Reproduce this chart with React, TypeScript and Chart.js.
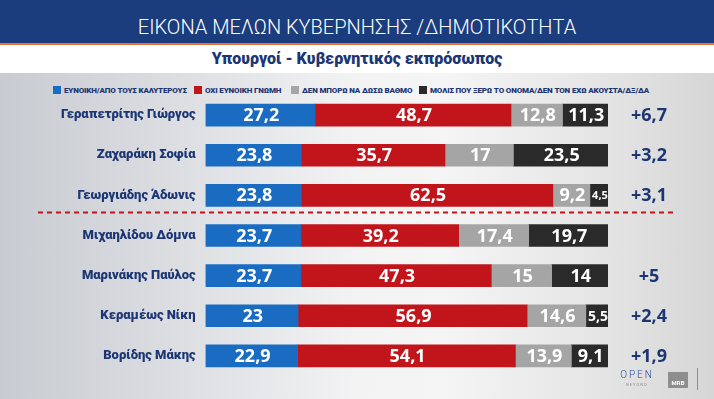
import React, { useEffect, useRef } from "react";
import { Chart, registerables } from "chart.js";

Chart.register(...registerables);

const categories = [
  "Γεραπετρίτης Γιώργος",
  "Ζαχαράκη Σοφία",
  "Γεωργιάδης Άδωνις",
  "Μιχαηλίδου Δόμνα",
  "Μαρινάκης Παύλος",
  "Κεραμέως Νίκη",
  "Βορίδης Μάκης",
];
const favorable = [27.2, 23.8, 23.8, 23.7, 23.7, 23, 22.9];
const unfavorable = [48.7, 35.7, 62.5, 39.2, 47.3, 56.9, 54.1];
const cannotRate = [12.8, 17, 9.2, 17.4, 15, 14.6, 13.9];
const barelyKnow = [11.3, 23.5, 4.5, 19.7, 14, 5.5, 9.1];
const changes = ["+6,7", "+3,2", "+3,1", "", "+5", "+2,4", "+1,9"];
const seriesNames = [
  "ΕΥΝΟΙΚΗ/ΑΠΟ ΤΟΥΣ ΚΑΛΥΤΕΡΟΥΣ",
  "ΟΧΙ ΕΥΝΟΙΚΗ ΓΝΩΜΗ",
  "ΔΕΝ ΜΠΟΡΩ ΝΑ ΔΩΣΩ ΒΑΘΜΟ",
  "ΜΟΛΙΣ ΠΟΥ ΞΕΡΩ ΤΟ ΟΝΟΜΑ/ΔΕΝ ΤΟΝ ΕΧΩ ΑΚΟΥΣΤΑ/ΔΞ/ΔΑ",
];
const seriesColors = ["#1a6cc2", "#c1151b", "#a5a5a5", "#2a2a2a"];
const title = "ΕΙΚΟΝΑ ΜΕΛΩΝ ΚΥΒΕΡΝΗΣΗΣ /ΔΗΜΟΤΙΚΟΤΗΤΑ";
const subtitle = "Υπουργοί - Κυβερνητικός εκπρόσωπος";

const NAVY = "#1c3674";

function fmt(v: number) {
  return String(v).replace(".", ",");
}

const overlayPlugin = {
  id: "overlay",
  afterDatasetsDraw(chart: any) {
    const ctx = chart.ctx;
    ctx.save();
    chart.data.datasets.forEach((ds: any, di: number) => {
      const meta = chart.getDatasetMeta(di);
      meta.data.forEach((el: any, i: number) => {
        const v = ds.data[i];
        const left = Math.min(el.x, el.base);
        const w = Math.abs(el.x - el.base);
        const text = fmt(v);
        let size = 18;
        ctx.font = `bold ${size}px "Open Sans"`;
        let tw = ctx.measureText(text).width;
        while (tw > w - 2 && size > 8) {
          size -= 1;
          ctx.font = `bold ${size}px "Open Sans"`;
          tw = ctx.measureText(text).width;
        }
        ctx.fillStyle = "#ffffff";
        ctx.textAlign = "center";
        ctx.textBaseline = "middle";
        ctx.fillText(text, left + w / 2 + 1, el.y + 1);
      });
    });
    const yScale = chart.scales.y;
    ctx.font = `bold 18px "Open Sans"`;
    ctx.fillStyle = NAVY;
    ctx.textAlign = "center";
    ctx.textBaseline = "middle";
    changes.forEach((c, i) => {
      if (!c) return;
      ctx.fillText(c, 649, yScale.getPixelForValue(i) + 1);
    });
    const yd = (yScale.getPixelForValue(2) + yScale.getPixelForValue(3)) / 2 - 3;
    ctx.strokeStyle = "#c1151b";
    ctx.lineWidth = 2;
    ctx.setLineDash([5, 4]);
    ctx.beginPath();
    ctx.moveTo(38, yd);
    ctx.lineTo(674, yd);
    ctx.stroke();
    ctx.restore();
  },
};

export default function App() {
  const ref = useRef<HTMLCanvasElement | null>(null);
  useEffect(() => {
    document.body.style.margin = "0";
    const canvas = ref.current!;
    const chart = new Chart(canvas, {
      type: "bar",
      data: {
        labels: categories,
        datasets: [favorable, unfavorable, cannotRate, barelyKnow].map((d, i) => ({
          label: seriesNames[i],
          data: d,
          backgroundColor: seriesColors[i],
          borderWidth: 0,
          barThickness: 22,
        })),
      },
      options: {
        indexAxis: "y",
        responsive: false,
        maintainAspectRatio: false,
        animation: false,
        devicePixelRatio: 1,
        layout: { padding: { top: 95, bottom: 23, left: 0, right: 106 } },
        plugins: { legend: { display: false }, tooltip: { enabled: false } },
        scales: {
          x: { stacked: true, min: 0, max: 100, display: false },
          y: {
            stacked: true,
            grid: { display: false },
            border: { display: false },
            ticks: {
              color: NAVY,
              padding: 2,
              font: { family: "Roboto", weight: "900", size: 13 },
            },
            afterFit: (s: any) => {
              s.width = 205.5;
            },
          },
        },
      },
      plugins: [overlayPlugin],
    } as any);
    return () => chart.destroy();
  }, []);

  const legendPos = [53, 194, 291, 419];

  return (
    <div
      style={{
        position: "absolute",
        left: 0,
        top: 0,
        width: 714,
        height: 399,
        overflow: "hidden",
        background:
          "linear-gradient(90deg, #c8cbd1 0%, #dcdee2 25%, #f3f3f4 50%, #f5f5f5 62%, #e4e4e4 85%, #d6d6d6 100%)",
        fontFamily: "Roboto, sans-serif",
      }}
    >
      <div style={{ position: "absolute", left: 0, top: 0, width: 714, height: 43, background: "#1b3c7d" }} />
      <div style={{ position: "absolute", left: 0, top: 43, width: 714, height: 2, background: "#e7733a" }} />
      <div style={{ position: "absolute", left: 0, top: 45, width: 714, height: 28, background: "#ffffff" }} />
      <div
        style={{
          position: "absolute",
          left: 0,
          top: 15,
          width: 714,
          textAlign: "center",
          color: "#ffffff",
          fontFamily: "Roboto",
          fontWeight: 300,
          fontSize: 20,
          lineHeight: "25px",
          whiteSpace: "nowrap",
        }}
      >
        {title}
      </div>
      <div
        style={{
          position: "absolute",
          left: 0,
          top: 48,
          width: 714,
          textAlign: "center",
          color: NAVY,
          fontFamily: "Roboto",
          fontWeight: 900,
          fontSize: 16,
          lineHeight: "22px",
          whiteSpace: "nowrap",
        }}
      >
        {subtitle}
      </div>
      {seriesNames.map((n, i) => (
        <div
          key={n}
          style={{
            position: "absolute",
            left: legendPos[i],
            top: 84,
            height: 12,
            display: "flex",
            alignItems: "center",
            whiteSpace: "nowrap",
          }}
        >
          <div style={{ width: 8, height: 8, background: seriesColors[i], marginRight: 3 }} />
          <span
            style={{
              color: NAVY,
              fontFamily: "Roboto",
              fontWeight: 900,
              fontSize: 8,
              letterSpacing: -0.15,
            }}
          >
            {n}
          </span>
        </div>
      ))}
      <canvas
        ref={ref}
        width={714}
        height={399}
        style={{ position: "absolute", left: 0, top: 0, width: 714, height: 399 }}
      />
      <div
        style={{
          position: "absolute",
          left: 617,
          top: 369,
          width: 40,
          textAlign: "center",
          color: "#2a4d9a",
          fontFamily: "Roboto",
          fontWeight: 300,
          fontSize: 10,
          letterSpacing: 2,
          lineHeight: "11px",
        }}
      >
        OPEN
      </div>
      <div
        style={{
          position: "absolute",
          left: 617,
          top: 382,
          width: 40,
          textAlign: "center",
          color: "#8a8f99",
          fontFamily: "Roboto",
          fontSize: 4,
          letterSpacing: 1,
          lineHeight: "5px",
        }}
      >
        BEYOND
      </div>
      <div style={{ position: "absolute", left: 668, top: 372, width: 20, height: 16, background: "#8e8e8e" }} />
      <div
        style={{
          position: "absolute",
          left: 668,
          top: 379,
          width: 20,
          textAlign: "center",
          color: "#ffffff",
          fontFamily: "Roboto",
          fontWeight: 700,
          fontSize: 6,
          lineHeight: "8px",
        }}
      >
        MRB
      </div>
      <div style={{ position: "absolute", left: 697, top: 368, width: 1, height: 22, background: "#e7733a" }} />
    </div>
  );
}
